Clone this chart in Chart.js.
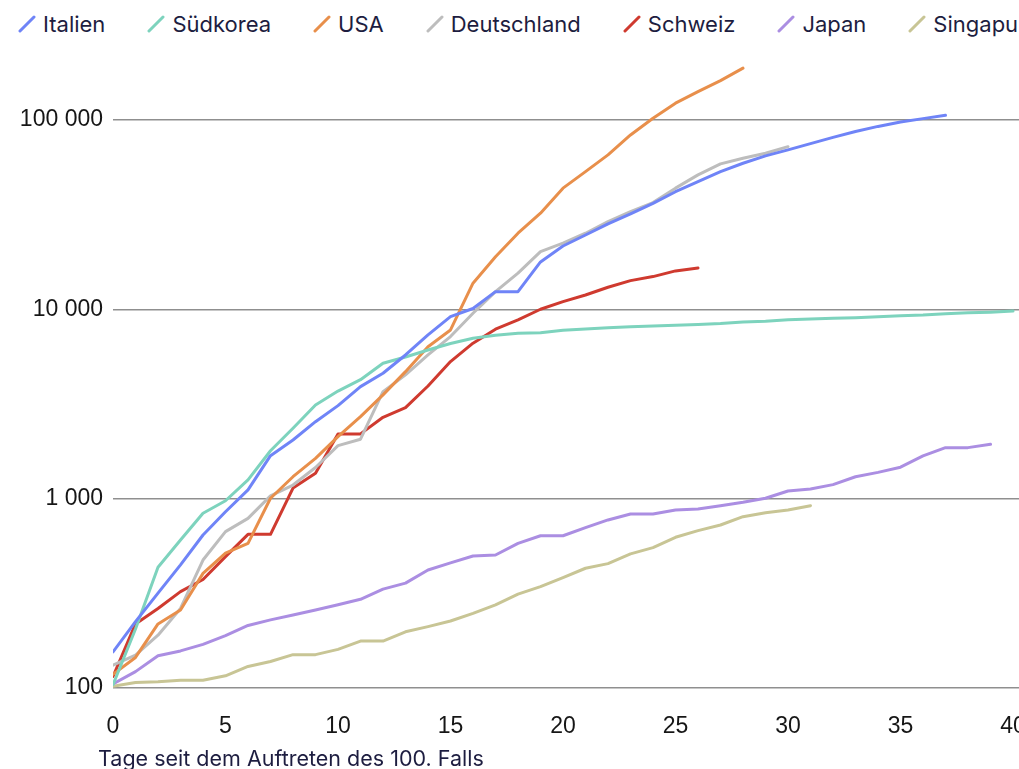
<!DOCTYPE html>
<html lang="de">
<head>
<meta charset="utf-8">
<title>Bestätigte Fälle seit dem 100. Fall</title>
<script src="https://cdn.jsdelivr.net/npm/chart.js@4.4.1/dist/chart.umd.min.js"></script>
<style>
  html, body { margin: 0; padding: 0; background: #ffffff; overflow: hidden; }
  #wrap { position: relative; width: 1068px; height: 800px; }
  #chart { position: absolute; left: 0; top: 0; }
  #legend {
    position: absolute; left: 18px; top: 10px;
    display: flex; align-items: center; white-space: nowrap;
    font-family: Inter, "Noto Sans", sans-serif; font-size: 22px; line-height: 28px;
    color: #1d1d40;
  }
  #legend .item { display: flex; align-items: center; margin-right: 42px; }
  #legend svg { margin-right: 7px; flex: none; }
</style>
</head>
<body>
<div id="wrap">
  <div id="legend"></div>
  <canvas id="chart" width="1068" height="800"></canvas>
</div>
<script>
// Days since the 100th confirmed case
const days = [0, 1, 2, 3, 4, 5, 6, 7, 8, 9, 10, 11, 12, 13, 14, 15, 16, 17, 18, 19, 20,
              21, 22, 23, 24, 25, 26, 27, 28, 29, 30, 31, 32, 33, 34, 35, 36, 37, 38, 39, 40];

// Confirmed cases per country, one value per day
const italien = [155, 224, 317, 447, 643, 853, 1112, 1687, 2042, 2550, 3100, 3908, 4595, 5741,
  7328, 9145, 10100, 12400, 12400, 17800, 21600, 24700, 28300, 31900, 36300, 41800, 47300,
  53400, 59100, 64600, 69500, 75000, 81000, 87000, 92500, 97700, 101700, 105800];
const suedkorea = [104, 205, 434, 605, 838, 975, 1256, 1790, 2355, 3125, 3700, 4250, 5187, 5600,
  6100, 6600, 7030, 7300, 7480, 7520, 7760, 7880, 7990, 8090, 8170, 8240, 8320, 8410, 8560,
  8650, 8800, 8900, 8960, 9040, 9140, 9240, 9330, 9480, 9580, 9660, 9790];
const usa = [118, 145, 218, 258, 403, 515, 581, 1005, 1306, 1633, 2126, 2711, 3532, 4687, 6350,
  7780, 13740, 18970, 25230, 32190, 43650, 53390, 65430, 83380, 102200, 122700, 141300,
  161500, 187800];
const deutschland = [132, 149, 190, 263, 474, 670, 787, 1034, 1180, 1460, 1906, 2061, 3673, 4504,
  5741, 7180, 9530, 12400, 15520, 20170, 22350, 25230, 29040, 32810, 36630, 43650, 51300,
  58620, 62800, 66760, 72300];
const schweiz = [115, 218, 263, 323, 374, 494, 648, 648, 1138, 1361, 2198, 2198, 2690, 3027, 3937,
  5298, 6625, 7851, 8790, 10010, 10990, 11910, 13080, 14180, 14890, 15960, 16550];
const japan = [105, 122, 148, 157, 170, 189, 214, 229, 243, 258, 275, 294, 333, 358, 420, 458, 498,
  504, 581, 637, 637, 703, 772, 830, 830, 871, 882, 918, 957, 1005, 1098, 1125, 1186, 1306,
  1377, 1466, 1681, 1860, 1860, 1937];
const singapur = [102, 107, 108, 110, 110, 116, 130, 138, 150, 150, 160, 177, 177, 198, 211, 226,
  248, 275, 313, 343, 383, 429, 454, 511, 551, 625, 678, 726, 803, 843, 871, 918];

const countries = ['Italien', 'Südkorea', 'USA', 'Deutschland', 'Schweiz', 'Japan', 'Singapur'];
const seriesValues = [italien, suedkorea, usa, deutschland, schweiz, japan, singapur];
const lineColors = ['#6f84f7', '#7dd3bd', '#e88f4b', '#bdbdbd', '#cf3a2f', '#ab8ee2', '#c8c595'];

const yTickValues = [100, 1000, 10000, 100000];
const xTickStep = 5;
const axisTitle = 'Tage seit dem Auftreten des 100. Falls';

const tickFont = { family: '"Liberation Sans", Arial, sans-serif', size: 23 };
const textFont = '21.5px Inter, "Noto Sans", sans-serif';

function groupThousands(v) {
  return String(v).replace(/\B(?=(\d{3})+(?!\d))/g, ' ');
}

// Axis caption, drawn left-aligned under the tick labels
const axisCaption = {
  id: 'axisCaption',
  afterDraw(chart, args, opts) {
    const { ctx, chartArea } = chart;
    ctx.save();
    ctx.font = opts.font;
    ctx.fillStyle = opts.color;
    ctx.textAlign = 'left';
    ctx.textBaseline = 'middle';
    ctx.fillText(opts.text, chartArea.left + opts.offsetX, chartArea.bottom + opts.offsetY);
    ctx.restore();
  }
};

const datasets = countries.map((name, i) => ({
  label: name,
  data: seriesValues[i].map((v, d) => ({ x: days[d], y: v })),
  borderColor: lineColors[i],
  backgroundColor: lineColors[i],
  borderWidth: 3,
  pointRadius: 0,
  pointHoverRadius: 0,
  tension: 0,
  borderJoinStyle: 'round',
  borderCapStyle: 'round',
  fill: false
}));

const chart = new Chart(document.getElementById('chart'), {
  type: 'line',
  data: { datasets },
  plugins: [axisCaption],
  options: {
    responsive: false,
    animation: false,
    layout: { padding: { left: 18, top: 63, right: 10, bottom: 0 } },
    plugins: {
      legend: { display: false },
      tooltip: { enabled: false },
      axisCaption: { text: axisTitle, font: textFont, color: '#1d1d40', offsetX: -15, offsetY: 72 }
    },
    scales: {
      x: {
        type: 'linear',
        min: 0,
        max: 42,
        ticks: { stepSize: xTickStep, includeBounds: false, padding: 17, color: '#161616', font: tickFont },
        grid: { display: false },
        border: { display: false },
        afterFit(scale) { scale.height = 112; }
      },
      y: {
        type: 'logarithmic',
        min: 100,
        max: 200000,
        afterBuildTicks(scale) { scale.ticks = yTickValues.map(v => ({ value: v })); },
        ticks: { padding: 10, color: '#161616', font: tickFont, callback: v => groupThousands(v) },
        grid: { color: '#8f8f8f', lineWidth: 1.5, drawTicks: false },
        border: { display: false },
        afterFit(scale) { scale.width = 95; }
      }
    }
  }
});

// Legend row built from the chart's own legend items
const legendEl = document.getElementById('legend');
Chart.defaults.plugins.legend.labels.generateLabels(chart).forEach(item => {
  const el = document.createElement('span');
  el.className = 'item';
  el.innerHTML =
    '<svg width="18" height="18" viewBox="0 0 18 18"><line x1="2" y1="16" x2="16" y2="2" stroke="' +
    item.strokeStyle + '" stroke-width="3" stroke-linecap="round"/></svg>';
  const label = document.createElement('span');
  label.textContent = item.text;
  el.appendChild(label);
  legendEl.appendChild(el);
});
</script>
</body>
</html>
